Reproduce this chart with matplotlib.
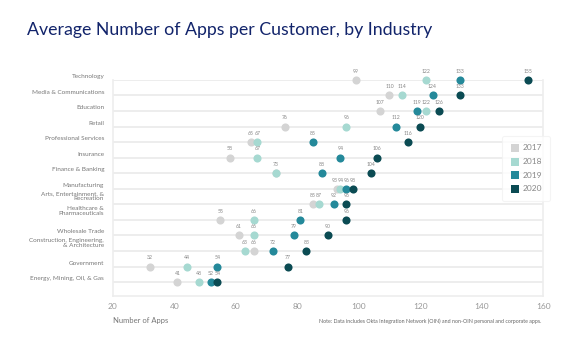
import matplotlib.pyplot as plt
from matplotlib.markers import MarkerStyle
import numpy as np

# =========================
# DADOS
# =========================
industrias = [
    "Technology",
    "Media & Communications",
    "Education",
    "Retail",
    "Professional Services",
    "Insurance",
    "Finance & Banking",
    "Manufacturing",
    "Arts, Entertainment, &\nRecreation",
    "Healthcare &\nPharmaceuticals",
    "Wholesale Trade",
    "Construction, Engineering,\n& Architecture",
    "Government",
    "Energy, Mining, Oil, & Gas",
]

anos = ["2017", "2018", "2019", "2020"]

v2017 = [99, 110, 107, 76, 65, 58, 73, 93, 85, 55, 61, 66, 32, 41]
v2018 = [122, 114, 122, 96, 67, 67, 73, 94, 87, 66, 66, 63, 44, 48]
v2019 = [133, 124, 119, 112, 85, 94, 88, 96, 92, 81, 79, 72, 54, 52]
v2020 = [155, 133, 126, 120, 116, 106, 104, 98, 96, 96, 90, 83, 77, 54]

x_ticks = [20, 40, 60, 80, 100, 120, 140, 160]

cores = ["#d4d4d4", "#a6d9d1", "#24899a", "#0b4b53"]
TITULO_COR = "#12246b"
CINZA = "#777777"
GRADE = "#ededed"

plt.rcParams["font.family"] = ["Lato", "DejaVu Sans"]

PX_POR_UNID = 430 / 140   # largura do eixo em px / faixa de x
MIN_ESP = 6.0             # distância mínima entre rótulos, em px

def afastar(valores):
    # desloca rótulos muito próximos para não se sobreporem
    pos = [v * PX_POR_UNID for v in valores]
    novo = list(pos)
    for k in range(1, len(novo)):
        if novo[k] - novo[k - 1] < MIN_ESP:
            novo[k] = novo[k - 1] + MIN_ESP
    excesso = (sum(novo) - sum(pos)) / len(pos)
    return [(n - excesso - p) * 0.72 for n, p in zip(novo, pos)]

# =========================
# FIGURA
# =========================
fig = plt.figure(figsize=(5.67, 3.55), dpi=100)
ax = fig.add_axes([0.199, 0.166, 0.759, 0.609])

y = np.arange(len(industrias))
series = [v2017, v2018, v2019, v2020]

for yi in y:
    ax.axhline(yi, color=GRADE, lw=1.4, zorder=1)

for vals, cor, ano in zip(series, cores, anos):
    ax.scatter(vals, y, s=34, color=cor, zorder=3, clip_on=False,
               linewidths=0, label=ano)

# rótulos dos pontos (evita repetir valor igual na mesma linha)
for i in range(len(industrias)):
    valores = sorted(set(vals[i] for vals in series))
    desloc = afastar(valores)
    for v, dx in zip(valores, desloc):
        ax.annotate(str(v), (v, i), xytext=(dx, 4.5), textcoords="offset points",
                    ha="center", va="bottom", fontsize=3.7, color="#888888",
                    annotation_clip=False)

ax.set_xlim(20, 160)
ax.set_ylim(13.9, 0)
ax.set_xticks(x_ticks)
ax.set_xticklabels([str(t) for t in x_ticks])
ax.tick_params(axis="x", length=0, labelsize=6, colors="#999999", pad=5)
ax.set_yticks([])

for lado in ["left", "right", "bottom", "top"]:
    ax.spines[lado].set_color(GRADE)
    ax.spines[lado].set_linewidth(1.2)
ax.spines["top"].set_visible(False)

# rótulos das categorias
for i, nome in enumerate(industrias):
    ax.text(-0.02, i - 0.22, nome, transform=ax.get_yaxis_transform(),
            ha="right", va="bottom" if "\n" in nome else "center",
            fontsize=4.6, color=CINZA, linespacing=1.0)

fig.text(0.199, 0.09, "Number of Apps", fontsize=5.5, color=CINZA, ha="left")

fig.text(0.048, 0.915, "Average Number of Apps per Customer, by Industry",
         fontsize=12.8, color=TITULO_COR, ha="left", va="center")

fig.text(0.955, 0.09,
         "Note: Data includes Okta Integration Network (OIN) and non-OIN personal and corporate apps.",
         fontsize=3.8, color="#666666", ha="right")

leg = ax.legend(loc="upper left", bbox_to_anchor=(0.895, 0.76), frameon=True,
                fontsize=6, handletextpad=0.4,
                borderpad=1.0, labelspacing=0.8, handlelength=1.0)
for h in leg.legend_handles:
    h.set_sizes([36])
    h.set_paths([MarkerStyle("s").get_path().transformed(
        MarkerStyle("s").get_transform())])
for t in leg.get_texts():
    t.set_color("#888888")
leg.get_frame().set_edgecolor("#f2f2f2")
leg.get_frame().set_linewidth(0.8)

fig.savefig("out.png", dpi=100)
